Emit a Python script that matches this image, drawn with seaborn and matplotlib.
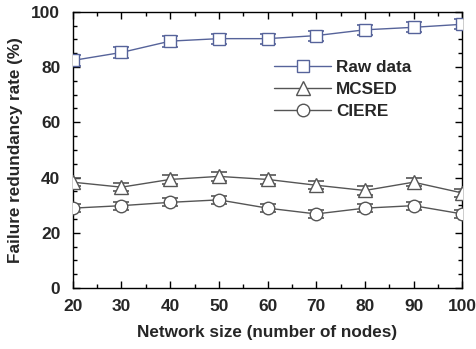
import seaborn as sns
import pandas as pd
import matplotlib.pyplot as plt
from matplotlib.ticker import MultipleLocator

# network size vs failure redundancy rate
sizes = [20, 30, 40, 50, 60, 70, 80, 90, 100]
raw_data = [82.4, 85.3, 89.4, 90.3, 90.3, 91.4, 93.5, 94.4, 95.5]
mcsed = [38.3, 36.5, 39.3, 40.4, 39.3, 37.2, 35.3, 38.3, 34.4]
ciere = [28.9, 29.8, 31.0, 31.9, 28.9, 26.8, 28.9, 29.8, 26.8]
raw_err = [2.0, 2.0, 2.0, 1.8, 1.8, 1.8, 1.8, 1.8, 1.8]
mcsed_err = [1.5, 1.5, 1.5, 1.5, 1.5, 1.5, 1.5, 1.5, 1.5]
ciere_err = [1.5, 1.5, 1.5, 1.5, 1.5, 1.5, 1.5, 1.5, 1.5]

series = ['Raw data', 'MCSED', 'CIERE']
df = pd.DataFrame({
    'size': sizes * 3,
    'rate': raw_data + mcsed + ciere,
    'err': raw_err + mcsed_err + ciere_err,
    'method': [s for s in series for _ in sizes],
})

sns.set_style('ticks')
plt.rcParams['font.family'] = ['Liberation Sans', 'DejaVu Sans']
plt.rcParams['font.weight'] = 'bold'

fig = plt.figure(figsize=(4.76, 3.49), dpi=100)
ax = fig.add_axes([0.153, 0.175, 0.818, 0.791])

colors = {'Raw data': '#56639a', 'MCSED': '#555555', 'CIERE': '#555555'}
markers = {'Raw data': 's', 'MCSED': '^', 'CIERE': 'o'}
msizes = {'Raw data': 8.5, 'MCSED': 10.5, 'CIERE': 9}

for m in series:
    d = df[df['method'] == m]
    ax.errorbar(d['size'], d['rate'], yerr=d['err'], fmt='none',
                ecolor=colors[m], elinewidth=1, capsize=6, capthick=1.2, zorder=2)
    sns.lineplot(data=d, x='size', y='rate', ax=ax, color=colors[m],
                 marker=markers[m], markersize=msizes[m], markerfacecolor='white',
                 markeredgecolor=colors[m], markeredgewidth=1, linewidth=1,
                 label=m, zorder=3)

ax.set_xlim(20, 100)
ax.set_ylim(0, 100)
ax.xaxis.set_major_locator(MultipleLocator(10))
ax.xaxis.set_minor_locator(MultipleLocator(5))
ax.yaxis.set_major_locator(MultipleLocator(20))
ax.yaxis.set_minor_locator(MultipleLocator(5))
ax.tick_params(which='both', direction='in', top=True, right=True,
               labelsize=12.5, width=1, color='black')
ax.tick_params(which='major', length=5)
ax.tick_params(axis='x', which='major', pad=8)
ax.tick_params(axis='y', which='major', pad=9)
ax.tick_params(which='minor', length=3)
for sp in ax.spines.values():
    sp.set_linewidth(1)
    sp.set_color('black')

ax.set_xlabel('Network size (number of nodes)', fontsize=12.3, fontweight='bold', labelpad=8)
ax.set_ylabel('Failure redundancy rate (%)', fontsize=12.3, fontweight='bold', labelpad=6)

ax.legend(loc='upper left', bbox_to_anchor=(0.5, 0.85), frameon=False,
          fontsize=12.3, handlelength=3.3, handletextpad=0.3, labelspacing=0.4,
          borderaxespad=0)

fig.savefig('out.png', dpi=100)
